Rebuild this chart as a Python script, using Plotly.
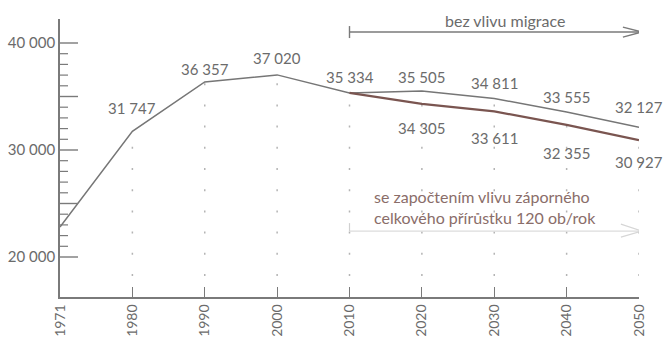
import plotly.graph_objects as go

# ---- data ----
years = ["1971", "1980", "1990", "2000", "2010", "2020", "2030", "2040", "2050"]
pop_no_migration = [22800, 31747, 36357, 37020, 35334, 35505, 34811, 33555, 32127]
proj_years = ["2010", "2020", "2030", "2040", "2050"]
pop_with_loss = [35334, 34305, 33611, 32355, 30927]

y_labels = [20000, 30000, 40000]
y_major = [20000, 25000, 30000, 35000, 40000]
y_minor = [v for v in range(21000, 40000, 1000) if v % 5000]

label_top_text = "bez vlivu migrace"
label_bottom_text = "se započtením vlivu záporného<br>celkového přírůstku 120 ob/rok"

# ---- style ----
FONT = "Lato"
GRAY_TXT = "#6b6b6b"
AX = "#7a7a7a"
LINE_GRAY = "#767676"
BROWN = "#7a5550"
NOTE_BROWN = "#8a6d69"


def fmt(v):
    return f"{v:,}".replace(",", " ")


idx = {y: i for i, y in enumerate(years)}

fig = go.Figure()
fig.add_trace(go.Scatter(x=list(range(len(years))), y=pop_no_migration, mode="lines",
                         line=dict(color=LINE_GRAY, width=1.5), cliponaxis=False,
                         hoverinfo="skip"))
fig.add_trace(go.Scatter(x=[idx[y] for y in proj_years], y=pop_with_loss, mode="lines",
                         line=dict(color=BROWN, width=2.2), cliponaxis=False,
                         hoverinfo="skip"))

shapes = []
# y-axis ticks drawn inside (major long, minor short)
for v in y_major:
    shapes.append(dict(type="line", xref="paper", yref="y", xsizemode="pixel", xanchor=0,
                       x0=0, x1=18, y0=v, y1=v, line=dict(color=AX, width=1.4)))
for v in y_minor:
    shapes.append(dict(type="line", xref="paper", yref="y", xsizemode="pixel", xanchor=0,
                       x0=0, x1=8, y0=v, y1=v, line=dict(color=AX, width=1.2)))
# drop lines (dotted)
for i in range(1, len(years)):
    shapes.append(dict(type="line", xref="x", yref="y", x0=i, x1=i, y0=18224,
                       y1=pop_no_migration[i], layer="below",
                       line=dict(color="#b4b4b4", width=1.5, dash="2px,19.2px")))

x_start = idx["2010"]
x_tip = idx["2050"] + 0.04
# top arrow
y_top = 0.953
shapes.append(dict(type="line", xref="x", yref="paper", x0=x_start, x1=x_tip,
                   y0=y_top, y1=y_top, line=dict(color=AX, width=1.4)))
shapes.append(dict(type="line", xref="x", yref="paper",
                   ysizemode="pixel", yanchor=y_top, x0=x_start, x1=x_start,
                   y0=-6, y1=6, line=dict(color=AX, width=1.4)))
shapes.append(dict(type="path", xref="x", yref="paper", xsizemode="pixel",
                   ysizemode="pixel", xanchor=x_tip, yanchor=y_top,
                   path="M-19,5 L0,0 L-19,-5", line=dict(color=AX, width=1.4)))
# bottom arrow
y_bot = 0.237
shapes.append(dict(type="line", xref="x", yref="paper", x0=x_start, x1=x_tip,
                   y0=y_bot, y1=y_bot, line=dict(color="#dcdcdc", width=1.2)))
shapes.append(dict(type="line", xref="x", yref="paper", ysizemode="pixel",
                   yanchor=y_bot, x0=x_start, x1=x_start, y0=0, y1=8,
                   line=dict(color="#d0d0d0", width=1.2)))
shapes.append(dict(type="path", xref="x", yref="paper", xsizemode="pixel",
                   ysizemode="pixel", xanchor=x_tip, yanchor=y_bot,
                   path="M-21,7 L0,0 L-21,-6", line=dict(color="#d6d6d6", width=1.2)))

annotations = []
above_dy = [0, 23, 13, 17, 16, 14, 16, 15, 20]
for i in range(1, len(years)):
    annotations.append(dict(x=i, y=pop_no_migration[i], xref="x", yref="y",
                            text=fmt(pop_no_migration[i]), showarrow=False,
                            yshift=above_dy[i], xanchor="center", yanchor="middle",
                            font=dict(family=FONT, size=15, color=GRAY_TXT)))
below_dy = [0, 24, 27, 28, 22]
for j in range(1, len(proj_years)):
    annotations.append(dict(x=idx[proj_years[j]], y=pop_with_loss[j], xref="x", yref="y",
                            text=fmt(pop_with_loss[j]), showarrow=False,
                            yshift=-below_dy[j], xanchor="center", yanchor="middle",
                            font=dict(family=FONT, size=15, color=GRAY_TXT)))
annotations.append(dict(x=6.15, y=0.993, xref="x", yref="paper", text=label_top_text,
                        showarrow=False, xanchor="center", yanchor="middle",
                        font=dict(family=FONT, size=16, color=GRAY_TXT)))
annotations.append(dict(x=4.31, y=0.322, xref="x", yref="paper", text=label_bottom_text,
                        showarrow=False, xanchor="left", yanchor="middle", align="left",
                        font=dict(family=FONT, size=16, color=NOTE_BROWN)))

fig.update_layout(
    width=663, height=337, autosize=False,
    margin=dict(l=60, r=24, t=19, b=40),
    paper_bgcolor="white", plot_bgcolor="white",
    showlegend=False,
    shapes=shapes, annotations=annotations,
    xaxis=dict(
        type="linear", range=[0, len(years) - 1], automargin=False,
        tickmode="array", tickvals=list(range(len(years))), ticktext=years,
        tickangle=-90, ticks="inside", ticklen=10, tickwidth=1.4, tickcolor=AX,
        ticklabelstandoff=0,
        showline=True, linecolor=AX, linewidth=1.6, showgrid=False, zeroline=False,
        tickfont=dict(family=FONT, size=14, color=GRAY_TXT),
    ),
    yaxis=dict(
        range=[16262, 42243], automargin=False,
        tickmode="array", tickvals=y_labels, ticktext=[fmt(v) for v in y_labels],
        ticks="",
        showline=True, linecolor=AX, linewidth=1.6, showgrid=False, zeroline=False,
        tickfont=dict(family=FONT, size=15, color=GRAY_TXT),
    ),
)

fig.write_html("out.html")
